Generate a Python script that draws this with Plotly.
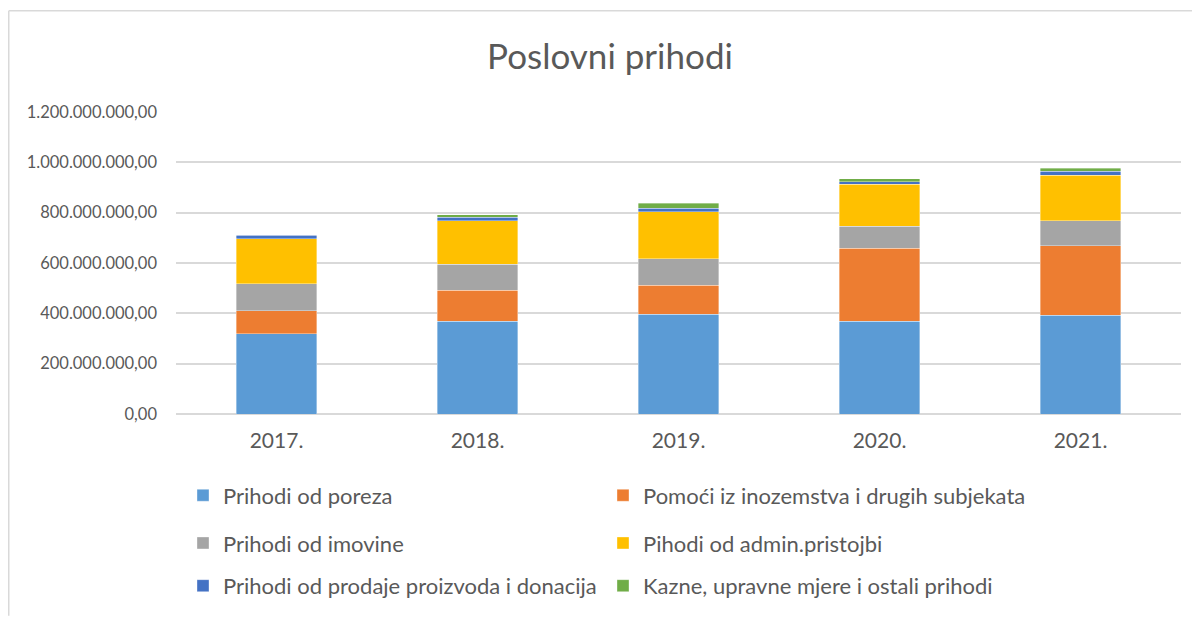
import plotly.graph_objects as go

# Data (in kn)
years = ["2017.", "2018.", "2019.", "2020.", "2021."]
porez = [318e6, 369e6, 396e6, 369e6, 393e6]
pomoci = [92e6, 122e6, 115e6, 290e6, 275e6]
imovina = [107e6, 104e6, 106e6, 87e6, 99e6]
admin = [179e6, 173e6, 187e6, 166e6, 182e6]
prodaja = [14e6, 13e6, 13e6, 11e6, 15e6]
kazne = [2e6, 11e6, 21e6, 12e6, 13e6]

series_names = [
    "Prihodi od poreza",
    "Pomoći iz inozemstva i drugih subjekata",
    "Prihodi od imovine",
    "Pihodi od admin.pristojbi",
    "Prihodi od prodaje proizvoda i donacija",
    "Kazne, upravne mjere i ostali prihodi",
]
series_values = [porez, pomoci, imovina, admin, prodaja, kazne]
colors = ["#5B9BD5", "#ED7D31", "#A5A5A5", "#FFC000", "#4472C4", "#70AD47"]

text_color = "#595959"
grid_color = "#D9D9D9"
font_family = "Lato, 'Open Sans', sans-serif"

# the page body has an 8px margin, so the figure is drawn 8px in from the window edge
OFF = 8
W, H = 1200 - OFF, 619 - OFF
# plot area in window pixels: x 176..1181, y 112..416
left, top = 176 - OFF, 112 - OFF
right = W - (1181 - OFF)
bottom = H - (416 - OFF)
plot_w = W - left - right
plot_h = H - top - bottom


def px_x(x):
    # window pixel -> paper x
    return (x - OFF - left) / plot_w


def px_y(y):
    # window pixel -> paper y
    return (H - bottom - (y - OFF)) / plot_h


# one small legend per entry so the 2x3 grid sits where Excel put it
legend_cols = [183, 603]
legend_rows = [498, 546, 589]

fig = go.Figure()
legends = {}

for i, (name, vals, col) in enumerate(zip(series_names, series_values, colors)):
    lg = "legend" if i == 0 else f"legend{i + 1}"
    fig.add_trace(go.Bar(
        x=years,
        y=vals,
        name=name,
        showlegend=True,
        marker=dict(color=col, line=dict(color="rgba(255,255,255,0.6)", width=0.6)),
        legend=lg,
    ))
    legends[lg] = dict(
        x=px_x(legend_cols[i % 2]),
        y=px_y(legend_rows[i // 2]),
        xanchor="left",
        yanchor="middle",
        font=dict(size=22, color=text_color, family=font_family),
        bgcolor="rgba(0,0,0,0)",
        itemwidth=30,
    )

fig.update_layout(
    width=W,
    height=H,
    showlegend=True,
    barmode="stack",
    bargap=0.6,
    separators=",.",
    plot_bgcolor="white",
    paper_bgcolor="white",
    font=dict(family=font_family, color=text_color),
    margin=dict(l=left, r=right, t=top, b=bottom),
    title=dict(
        text="Poslovni prihodi",
        x=(610 - OFF) / W,
        xanchor="center",
        y=1 - (57 - OFF) / H,
        yanchor="middle",
        font=dict(size=35, color=text_color, family=font_family),
    ),
    xaxis=dict(
        showgrid=False,
        showline=False,
        ticks="",
        ticklabelstandoff=12,
        tickfont=dict(size=21, color=text_color),
    ),
    yaxis=dict(
        range=[0, 1.2e9],
        dtick=2e8,
        tickformat=",.2f",
        showgrid=True,
        gridcolor=grid_color,
        gridwidth=1.5,
        zeroline=True,
        zerolinecolor=grid_color,
        zerolinewidth=1.5,
        showline=False,
        ticks="",
        ticklabelstandoff=18,
        tickfont=dict(size=16.5, color=text_color),
    ),
    shapes=[
        dict(type="line", xref="paper", yref="paper",
             x0=px_x(8.75), x1=px_x(1200), y0=px_y(10), y1=px_y(10),
             line=dict(color=grid_color, width=1.5)),
        dict(type="line", xref="paper", yref="paper",
             x0=px_x(8.75), x1=px_x(8.75), y0=px_y(10), y1=px_y(619),
             line=dict(color=grid_color, width=1.5)),
    ],
    **legends,
)

fig.write_html("out.html")
